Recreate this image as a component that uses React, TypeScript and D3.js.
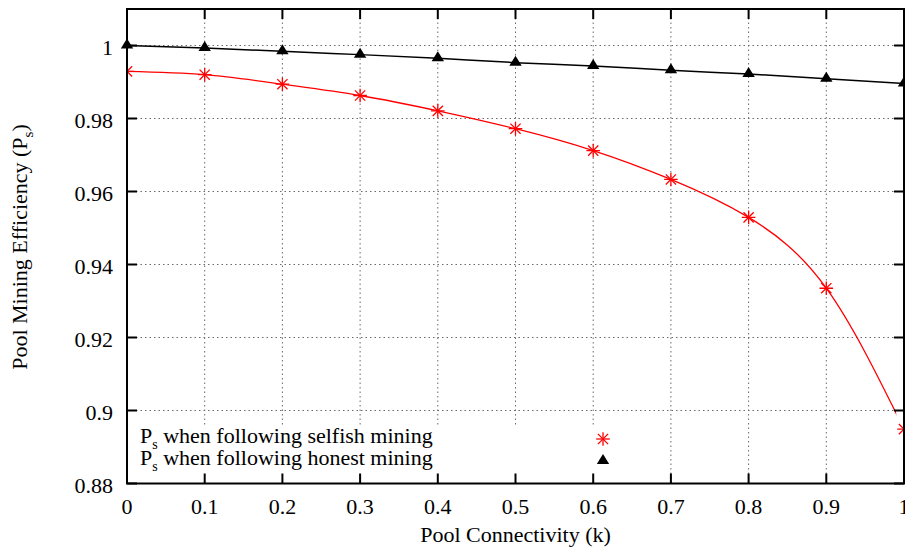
import React from "react";
import * as d3 from "d3";

const kValues = [0, 0.1, 0.2, 0.3, 0.4, 0.5, 0.6, 0.7, 0.8, 0.9, 1.0];
const selfishValues = [0.9929, 0.992, 0.9894, 0.9863, 0.9821, 0.9772, 0.9712, 0.9633, 0.9529, 0.9335, 0.8949];
const honestValues = [1.0, 0.9993, 0.9984, 0.9975, 0.9965, 0.9953, 0.9944, 0.9932, 0.9922, 0.9909, 0.9896];
const xTicks = [0, 0.1, 0.2, 0.3, 0.4, 0.5, 0.6, 0.7, 0.8, 0.9, 1];
const yTicks = [0.88, 0.9, 0.92, 0.94, 0.96, 0.98, 1];
const seriesLabels = ["when following selfish mining", "when following honest mining"];

const W = 905;
const H = 556;
const L = 127;
const R = 904;
const T = 9;
const B = 483.5;
const FONT = "'Liberation Serif', 'Times New Roman', serif";
const FS = 22;

function Star({ cx, cy, s = 6.8 }: { cx: number; cy: number; s?: number }) {
  const d = s * 0.75;
  return (
    <g stroke="#ff0000" strokeWidth={1.3}>
      <line x1={cx - s} y1={cy} x2={cx + s} y2={cy} />
      <line x1={cx} y1={cy - s} x2={cx} y2={cy + s} />
      <line x1={cx - d} y1={cy - d} x2={cx + d} y2={cy + d} />
      <line x1={cx - d} y1={cy + d} x2={cx + d} y2={cy - d} />
    </g>
  );
}

function Tri({ cx, cy }: { cx: number; cy: number }) {
  const w = 6.2;
  const top = cy - 7;
  const bot = cy + 3;
  return <path d={`M${cx},${top} L${cx + w},${bot} L${cx - w},${bot} Z`} fill="#000" />;
}

export default function App() {
  const x = d3.scaleLinear().domain([0, 1]).range([L, R]);
  const y = d3.scaleLinear().domain([0.88, 1.01]).range([B, T]);

  const selfishPts: [number, number][] = kValues.map((k, i) => [x(k), y(selfishValues[i])]);
  const honestPts: [number, number][] = kValues.map((k, i) => [x(k), y(honestValues[i])]);

  const curve = d3.line().curve(d3.curveNatural);
  const lin = d3.line().curve(d3.curveNatural);

  const legendY = [436, 458];

  return (
    <svg
      width={W}
      height={H}
      style={{ position: "absolute", left: 0, top: 0, background: "#fff" }}
      fontFamily={FONT}
    >
      <defs>
        <clipPath id="redclip">
          <rect x={L} y={T} width={x(0.99) - L} height={B - T} />
        </clipPath>
        <clipPath id="plotclip">
          <rect x={L} y={T} width={R - L} height={B - T} />
        </clipPath>
      </defs>
      <rect x={0} y={0} width={W} height={H} fill="#fff" />

      {/* grid */}
      <g stroke="#6a6a6a" strokeWidth={1} strokeDasharray="1.5,3">
        {xTicks.filter((t) => t > 0 && t < 1).map((t) => (
          <line key={"gx" + t} x1={x(t)} x2={x(t)} y1={T} y2={B} />
        ))}
        {yTicks.filter((t) => t > 0.88).map((t) => (
          <line key={"gy" + t} x1={L} x2={R} y1={y(t)} y2={y(t)} />
        ))}
      </g>

      {/* legend background */}
      <rect x={L + 2} y={426} width={496} height={B - 427} fill="#fff" />

      {/* series */}
      <g clipPath="url(#redclip)">
        <path d={curve(selfishPts) || ""} fill="none" stroke="#ff0000" strokeWidth={1.3} />
      </g>
      <path d={lin(honestPts) || ""} fill="none" stroke="#000" strokeWidth={1.5} />
      <g clipPath="url(#plotclip)">
        {selfishPts.map((p, i) => (
          <Star key={"s" + i} cx={p[0]} cy={p[1]} />
        ))}
      </g>
      {honestPts.map((p, i) => (
        <Tri key={"h" + i} cx={p[0]} cy={p[1]} />
      ))}

      {/* frame and ticks */}
      <g stroke="#000" strokeWidth={2}>
        {xTicks.map((t) => (
          <g key={"tx" + t}>
            <line x1={x(t)} x2={x(t)} y1={B} y2={B - 10} />
            <line x1={x(t)} x2={x(t)} y1={T} y2={T + 10} />
          </g>
        ))}
        {yTicks.map((t) => (
          <g key={"ty" + t}>
            <line x1={L} x2={L + 10} y1={y(t)} y2={y(t)} />
            <line x1={R} x2={R - 10} y1={y(t)} y2={y(t)} />
          </g>
        ))}
        <rect x={L} y={T} width={R - L} height={B - T} fill="none" />
      </g>

      {/* tick labels */}
      <g fontSize={FS} fill="#000">
        {xTicks.map((t) => (
          <text key={"lx" + t} x={x(t)} y={514} textAnchor="middle">
            {d3.format("")(t)}
          </text>
        ))}
        {yTicks.map((t) => (
          <text key={"ly" + t} x={113} y={y(t) + 9} textAnchor="end">
            {d3.format("")(t)}
          </text>
        ))}
      </g>

      {/* axis titles */}
      <text x={(L + R) / 2} y={542} textAnchor="middle" fontSize={FS}>
        Pool Connectivity (k)
      </text>
      <text transform={`translate(27,247) rotate(-90)`} textAnchor="middle" fontSize={FS}>
        Pool Mining Efficiency (P
        <tspan fontSize={15} dy={6}>s</tspan>
        <tspan dy={-6}>)</tspan>
      </text>

      {/* legend */}
      {seriesLabels.map((lab, i) => (
        <text key={"leg" + i} x={140} y={legendY[i] + 7} fontSize={FS}>
          P<tspan fontSize={14} dy={5.5}>s</tspan>
          <tspan dy={-5.5}> {lab}</tspan>
        </text>
      ))}
      <Star cx={603} cy={legendY[0] + 3} />
      <Tri cx={603} cy={legendY[1] + 3} />
    </svg>
  );
}
